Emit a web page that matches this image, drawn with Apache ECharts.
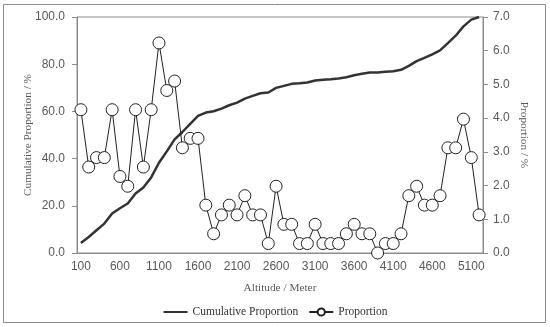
<!DOCTYPE html>
<html>
<head>
<meta charset="utf-8">
<script src="https://cdn.jsdelivr.net/npm/echarts@6/dist/echarts.min.js"></script>
<style>
html,body{margin:0;padding:0;background:#fff;}
#c{width:550px;height:327px;}
</style>
</head>
<body>
<div id="c"></div>
<script>
var altitudes = ['100','200','300','400','500','600','700','800','900','1000',
  '1100','1200','1300','1400','1500','1600','1700','1800','1900','2000',
  '2100','2200','2300','2400','2500','2600','2700','2800','2900','3000',
  '3100','3200','3300','3400','3500','3600','3700','3800','3900','4000',
  '4100','4200','4300','4400','4500','4600','4700','4800','4900','5000',
  '5100','5200'];
var proportion = [4.25,2.55,2.83,2.83,4.25,2.27,1.98,4.25,2.55,4.25,
  6.23,4.82,5.10,3.12,3.40,3.40,1.42,0.57,1.13,1.42,
  1.13,1.70,1.13,1.13,0.28,1.98,0.85,0.85,0.28,0.28,
  0.85,0.28,0.28,0.28,0.57,0.85,0.57,0.57,0.00,0.28,
  0.28,0.57,1.70,1.98,1.42,1.42,1.70,3.12,3.12,3.97,
  2.83,1.13];
var cumulative = [4.25,6.80,9.63,12.46,16.71,18.98,20.96,25.21,27.76,32.01,
  38.24,43.06,48.16,51.27,54.67,58.07,59.49,60.06,61.19,62.61,
  63.74,65.44,66.57,67.71,67.99,69.97,70.82,71.67,71.95,72.24,
  73.09,73.37,73.65,73.94,74.50,75.35,75.92,76.49,76.49,76.77,
  77.05,77.62,79.32,81.30,82.72,84.14,85.84,88.95,92.07,96.03,
  98.87,100.00];
var leftTicks = {min:0, max:100, interval:20};
var rightTicks = {min:0, max:7, interval:1};

var chart = echarts.init(document.getElementById('c'), null, {renderer:'canvas'});
var axisColor = '#8c8c8c';
var labelColor = '#595959';
var serif = '"Liberation Serif", "DejaVu Serif", serif';
var sans = '"Liberation Sans", Arial, sans-serif';
chart.setOption({
  animation:false,
  backgroundColor:'#fff',
  graphic:[{type:'rect', shape:{x:3.5,y:4.5,width:542,height:318}, style:{fill:'none', stroke:'#8c8c8c', lineWidth:1}, silent:true}],
  grid:{left:77, right:67, top:17, bottom:74, show:true, borderColor:axisColor, borderWidth:1},
  legend:{
    bottom:4, left:'center', itemWidth:24, itemHeight:9, itemGap:10,
    textStyle:{fontFamily:serif, fontSize:11.5, color:'#333'},
    data:[{name:'Cumulative Proportion', itemStyle:{opacity:0}},{name:'Proportion'}]
  },
  xAxis:{
    type:'category', data:altitudes, boundaryGap:true,
    name:'Altitude / Meter', nameLocation:'middle', nameGap:30, nameMoveOverlap:false,
    nameTextStyle:{fontFamily:serif, fontSize:11.3, color:labelColor},
    axisLine:{lineStyle:{color:axisColor}},
    axisTick:{interval:4, length:5, lineStyle:{color:axisColor}},
    axisLabel:{interval:4, margin:8, fontFamily:sans, fontSize:12, color:labelColor}
  },
  yAxis:[{
    type:'value', min:leftTicks.min, max:leftTicks.max, interval:leftTicks.interval,
    name:'Cumulative Proportion / %', nameLocation:'middle', nameGap:43, nameMoveOverlap:false,
    nameTextStyle:{fontFamily:serif, fontSize:11.3, color:labelColor},
    axisLine:{show:true, lineStyle:{color:axisColor}},
    axisTick:{show:true, length:5, lineStyle:{color:axisColor}},
    splitLine:{show:false},
    axisLabel:{margin:12, fontFamily:sans, fontSize:12, color:labelColor, formatter:function(v){return v.toFixed(1);}}
  },{
    type:'value', min:rightTicks.min, max:rightTicks.max, interval:rightTicks.interval,
    name:'Proportion / %', nameLocation:'middle', nameGap:35, nameRotate:-90, nameMoveOverlap:false,
    nameTextStyle:{fontFamily:serif, fontSize:11.3, color:labelColor},
    axisLine:{show:true, lineStyle:{color:axisColor}},
    axisTick:{show:true, length:5, lineStyle:{color:axisColor}},
    splitLine:{show:false},
    axisLabel:{margin:10, fontFamily:sans, fontSize:12, color:labelColor, formatter:function(v){return v.toFixed(1);}}
  }],
  series:[{
    name:'Cumulative Proportion', type:'line', yAxisIndex:0, data:cumulative,
    symbol:'none', smooth:false,
    lineStyle:{color:'#333', width:2.5},
    itemStyle:{color:'#333'}, z:2
  },{
    name:'Proportion', type:'line', yAxisIndex:1, data:proportion,
    symbol:'circle', symbolSize:12, showAllSymbol:true,
    lineStyle:{color:'#222', width:1},
    itemStyle:{color:'#fff', borderColor:'#222', borderWidth:1}, z:3
  }]
});
</script>
</body>
</html>
